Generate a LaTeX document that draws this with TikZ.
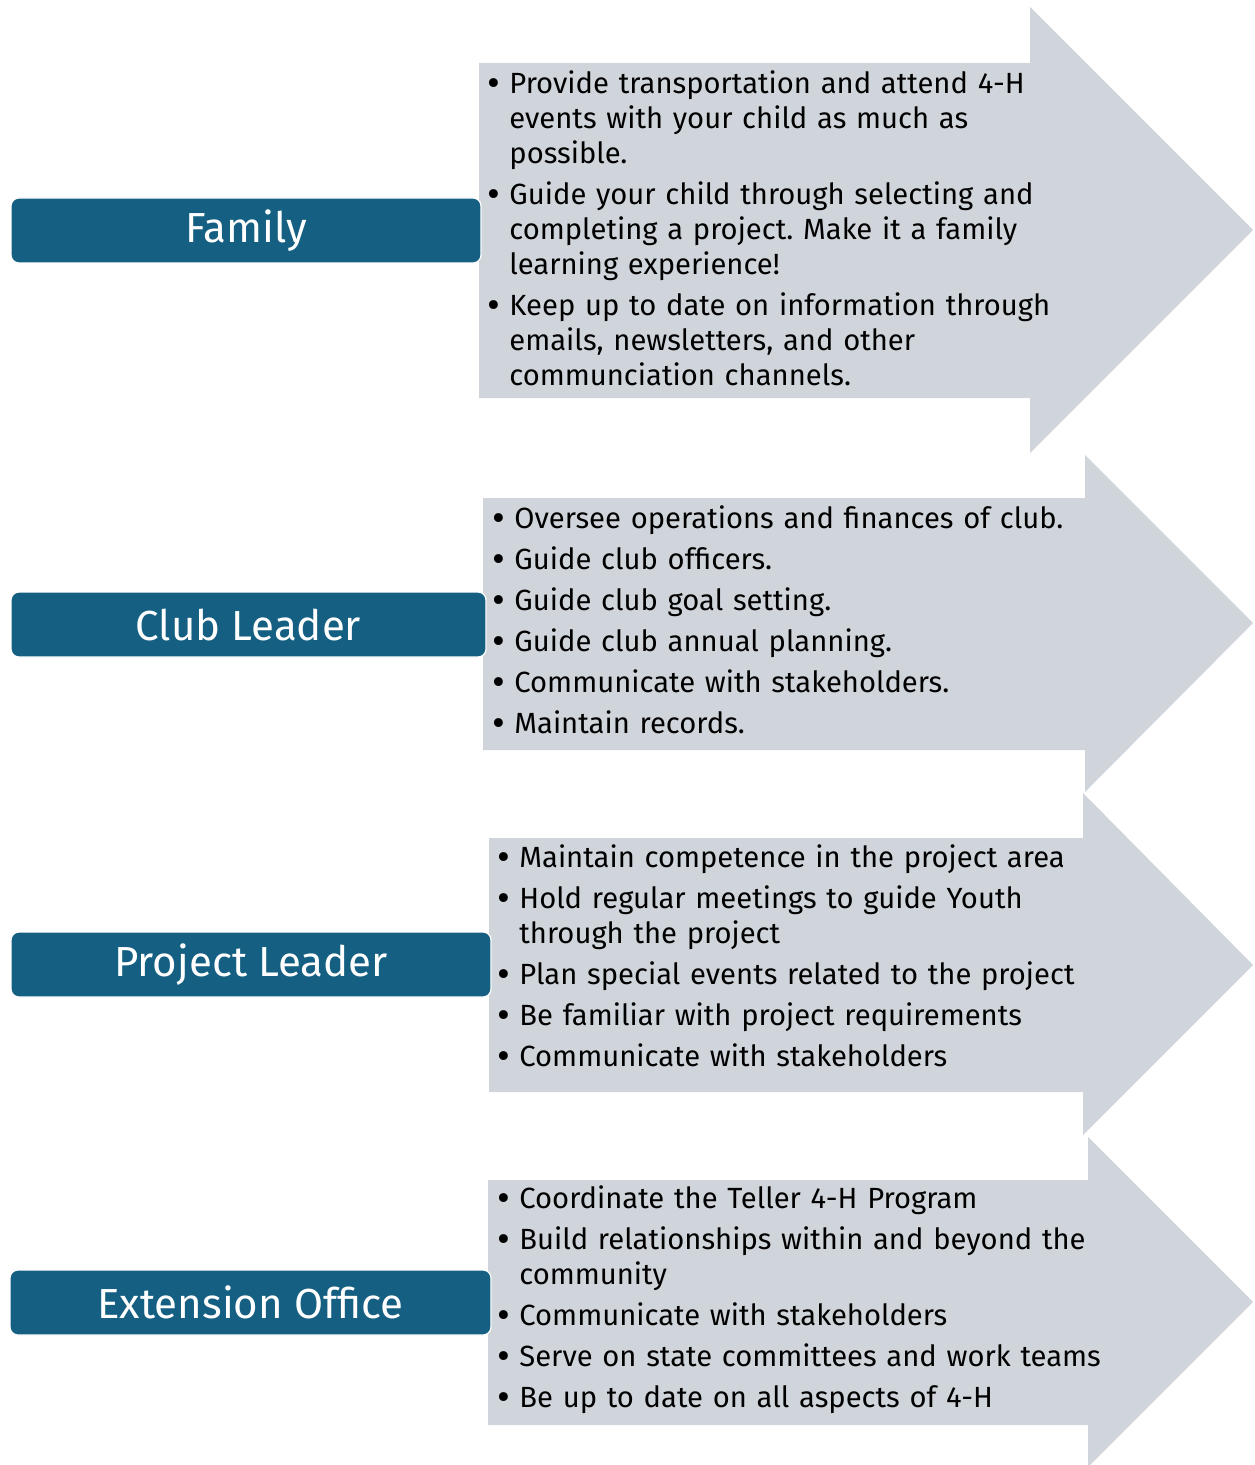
\documentclass[tikz,border=0pt]{standalone}
\usepackage{fontspec}
\setmainfont{Fira Sans}
\frenchspacing

\definecolor{rolegray}{HTML}{D0D5DB}
\definecolor{roleblue}{HTML}{156082}

\tikzset{
  role/.style={draw=white, line width=0.6pt, fill=roleblue, rounded corners=4pt,
    text=white, font=\fontsize{21}{25}\selectfont, inner sep=0pt},
  duties/.style={anchor=north west, align=left, text width=310pt, inner sep=0pt,
    font=\fontsize{14.6}{17.5}\selectfont,
    execute at begin node={\setlength{\parskip}{3pt}}},
  arrowbody/.style={fill=rolegray}
}
\newcommand{\duty}[1]{\noindent\hangindent=11pt\hangafter=1\makebox[11pt][l]{\raisebox{-0.1em}{\scalebox{1.35}{\textbullet}}}#1\par}

\begin{document}
\begin{tikzpicture}[x=0.5pt,y=-0.5pt]
\useasboundingbox (0,0) rectangle (1254,1465);

% Draw the grey arrows
\fill[arrowbody] (479,63) -- (1030,63) -- (1030,7) -- (1253,230) -- (1030,453) -- (1030,398) -- (479,398) -- cycle;
\fill[arrowbody] (483,498) -- (1085,498) -- (1085,455) -- (1253,623) -- (1085,792) -- (1085,750) -- (483,750) -- cycle;
\fill[arrowbody] (489,838) -- (1083,838) -- (1083,793) -- (1253,965) -- (1083,1135) -- (1083,1092) -- (489,1092) -- cycle;
\fill[arrowbody] (488,1180) -- (1088,1180) -- (1088,1137) -- (1253,1302) -- (1088,1467) -- (1088,1425) -- (488,1425) -- cycle;

% Draw the role boxes
\node[role, minimum width=235pt, minimum height=32.5pt] (family) at (246,230.5) {Family};
\node[role, minimum width=237.5pt, minimum height=32.5pt] (club) at (248.5,624.5) {Club Leader};
\node[role, minimum width=240pt, minimum height=32.5pt] (project) at (251,964.5) {Project Leader};
\node[role, minimum width=240.5pt, minimum height=32.5pt] (extension) at (250.5,1302.5) {Extension Office};

% Family duties
\node[duties] (familyduties) at (487,70) {%
\duty{Provide transportation and attend 4-H\newline events with your child as much as\newline possible.}
\duty{Guide your child through selecting and\newline completing a project. Make it a family\newline learning experience!}
\duty{Keep up to date on information through\newline emails, newsletters, and other\newline communciation channels.}};

% Club leader duties
\node[duties] (clubduties) at (492,505) {%
\duty{Oversee operations and finances of club.}
\duty{Guide club officers.}
\duty{Guide club goal setting.}
\duty{Guide club annual planning.}
\duty{Communicate with stakeholders.}
\duty{Maintain records.}};

% Project leader duties
\node[duties] (projectduties) at (497,844) {%
\duty{Maintain competence in the project area}
\duty{Hold regular meetings to guide Youth\newline through the project}
\duty{Plan special events related to the project}
\duty{Be familiar with project requirements}
\duty{Communicate with stakeholders}};

% Extension office duties
\node[duties] (extensionduties) at (497,1185) {%
\duty{Coordinate the Teller 4-H Program}
\duty{Build relationships within and beyond the\newline community}
\duty{Communicate with stakeholders}
\duty{Serve on state committees and work teams}
\duty{Be up to date on all aspects of 4-H}};

\end{tikzpicture}
\end{document}
